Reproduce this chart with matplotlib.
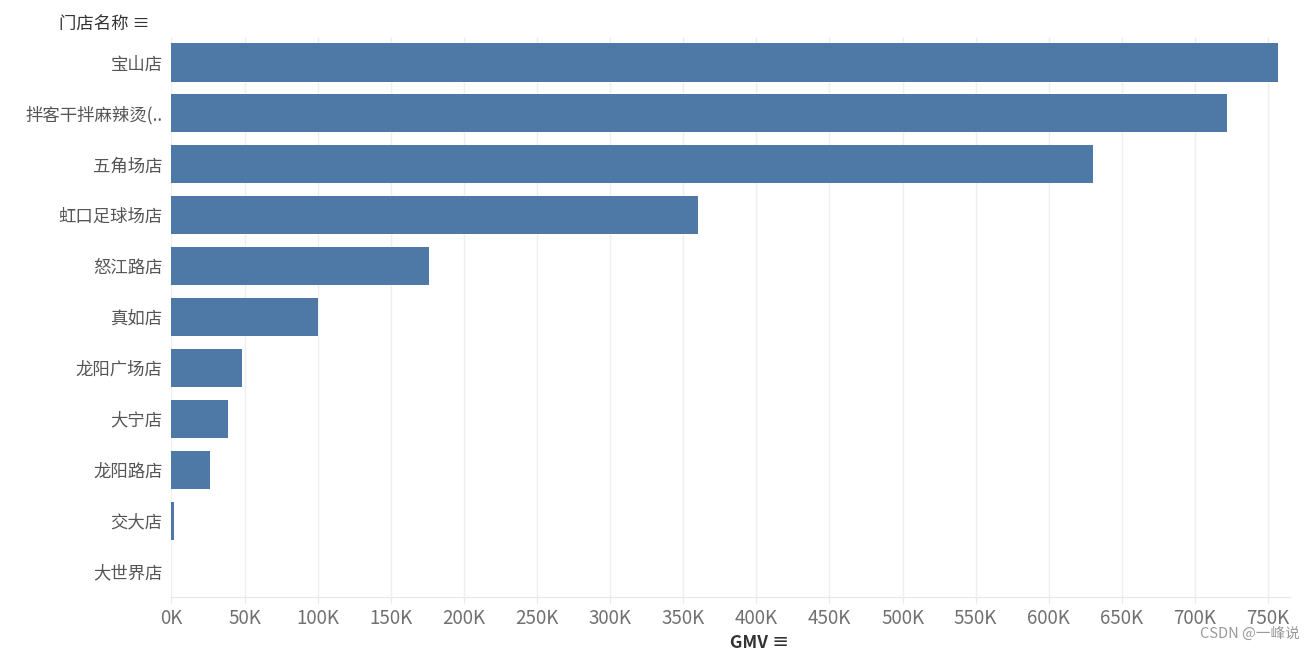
import matplotlib
matplotlib.use("Agg")
import matplotlib.pyplot as plt
from matplotlib.ticker import FuncFormatter, MultipleLocator

plt.rcParams['font.family'] = ['Noto Sans CJK SC', 'DejaVu Sans']

stores = ["宝山店", "拌客干拌麻辣烫(..", "五角场店", "虹口足球场店", "怒江路店", "真如店",
          "龙阳广场店", "大宁店", "龙阳路店", "交大店", "大世界店"]
gmv = [757000, 722000, 630000, 360000, 176000, 100000, 48500, 39000, 26700, 2000, 0]

fig = plt.figure(figsize=(13.15, 6.49), dpi=100)
ax = fig.add_axes([0.130, 0.080, 0.851, 0.863])

ypos = list(range(len(stores)))
ax.barh(ypos, gmv, height=0.75, color="#4e79a7", zorder=3)

ax.set_ylim(len(stores) - 0.5, -0.5)
ax.set_xlim(-300, 765000)
ax.xaxis.set_major_locator(MultipleLocator(50000))
ax.xaxis.set_major_formatter(FuncFormatter(lambda v, p: f"{int(round(v / 1000))}K"))
ax.set_yticks(ypos)
ax.set_yticklabels(stores, fontsize=12.5, color="#555555")

ax.grid(axis="x", color="#efefef", linewidth=1, zorder=0)
for s in ["top", "right", "left"]:
    ax.spines[s].set_visible(False)
ax.spines["bottom"].set_color("#e8e8e8")
ax.tick_params(axis="x", length=4, color="#e8e8e8", labelsize=13.5, labelcolor="#707070", pad=4)
ax.tick_params(axis="y", length=0, pad=6)

fig.text(150 / 1315, 1 - 25 / 649, "门店名称 ≡", fontsize=12.5, color="#333333",
         ha="right", va="center")
fig.text(760 / 1315, 1 - 643 / 649, "GMV ≡", fontsize=12.5, color="#333333",
         ha="center", va="center", fontweight="bold")
fig.text(1300 / 1315, 1 - 634 / 649, "CSDN @一峰说", fontsize=10.5, color="#999999",
         ha="right", va="center")

fig.savefig("out.png", dpi=100)
